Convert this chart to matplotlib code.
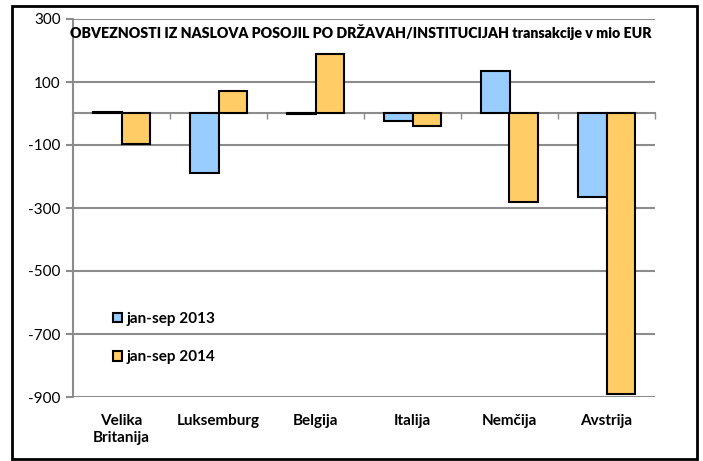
import numpy as np
import matplotlib
matplotlib.use('Agg')
import matplotlib.pyplot as plt
from matplotlib.patches import Rectangle
import matplotlib.transforms as mtransforms

plt.rcParams['font.family'] = ['Lato', 'DejaVu Sans']

categories = ['Velika\nBritanija', 'Luksemburg', 'Belgija', 'Italija', 'Nemčija', 'Avstrija']
series_labels = ['jan-sep 2013', 'jan-sep 2014']
vals_2013 = [5, -190, -3, -24, 134, -264]
vals_2014 = [-96, 71, 189, -41, -280, -890]
y_ticks = [300, 100, -100, -300, -500, -700, -900]
title = 'OBVEZNOSTI IZ NASLOVA POSOJIL PO DRŽAVAH/INSTITUCIJAH transakcije v mio EUR'

col_13 = '#99CCFF'
col_14 = '#FFCC66'
grid_col = '#8c8c8c'

fig = plt.figure(figsize=(7.03, 4.61), dpi=100)
# outer frame
fig.patches.append(Rectangle((12/703, 2/461), 685/703, 453/461, transform=fig.transFigure,
                             fill=False, edgecolor='black', linewidth=2))
ax = fig.add_axes([73/703, 64/461, 582/703, 378/461])

x = np.arange(len(categories))
w = 0.29
ax.bar(x - w/2, vals_2013, w, color=col_13, edgecolor='black', linewidth=1.5,
       label=series_labels[0], zorder=3)
ax.bar(x + w/2, vals_2014, w, color=col_14, edgecolor='black', linewidth=1.5,
       label=series_labels[1], zorder=3)

ax.set_xlim(-0.5, len(categories) - 0.5)
ax.set_ylim(-900, 300)
ax.set_yticks(y_ticks)
ax.set_yticklabels([str(v) for v in y_ticks], fontsize=11)
ax.grid(axis='y', color=grid_col, linewidth=1.5, zorder=0)

# horizontal axis crosses at zero
for s in ['top', 'right']:
  ax.spines[s].set_visible(False)
ax.spines['bottom'].set_position(('data', 0))
ax.spines['bottom'].set_color(grid_col)
ax.spines['bottom'].set_linewidth(1.5)
ax.spines['bottom'].set_zorder(2)
ax.spines['left'].set_color(grid_col)
ax.spines['left'].set_linewidth(1.5)
ax.set_xticks(np.arange(len(categories) + 1) - 0.5)
ax.set_xticklabels([])
ax.tick_params(axis='x', direction='out', length=4, color=grid_col, width=1)
ax.tick_params(axis='y', direction='out', length=5, color=grid_col, width=1.5, pad=4)

trans = mtransforms.blended_transform_factory(ax.transData, ax.transAxes)
for xi, lab in zip(x, categories):
  ax.text(xi, -0.045, lab, transform=trans, ha='center', va='top',
          fontsize=11, fontweight='bold', linespacing=1.3)

ax.text(0.495, 0.985, title, transform=ax.transAxes, ha='center', va='top',
        fontsize=10.2, fontweight='heavy')

leg = ax.legend(loc='upper left', bbox_to_anchor=(0.055, 0.245), frameon=False,
                fontsize=11, handlelength=0.6, handleheight=0.6,
                labelspacing=1.6, handletextpad=0.3, borderpad=0)
for t in leg.get_texts():
  t.set_fontweight('bold')

plt.savefig('out.png', dpi=100)
plt.close()
